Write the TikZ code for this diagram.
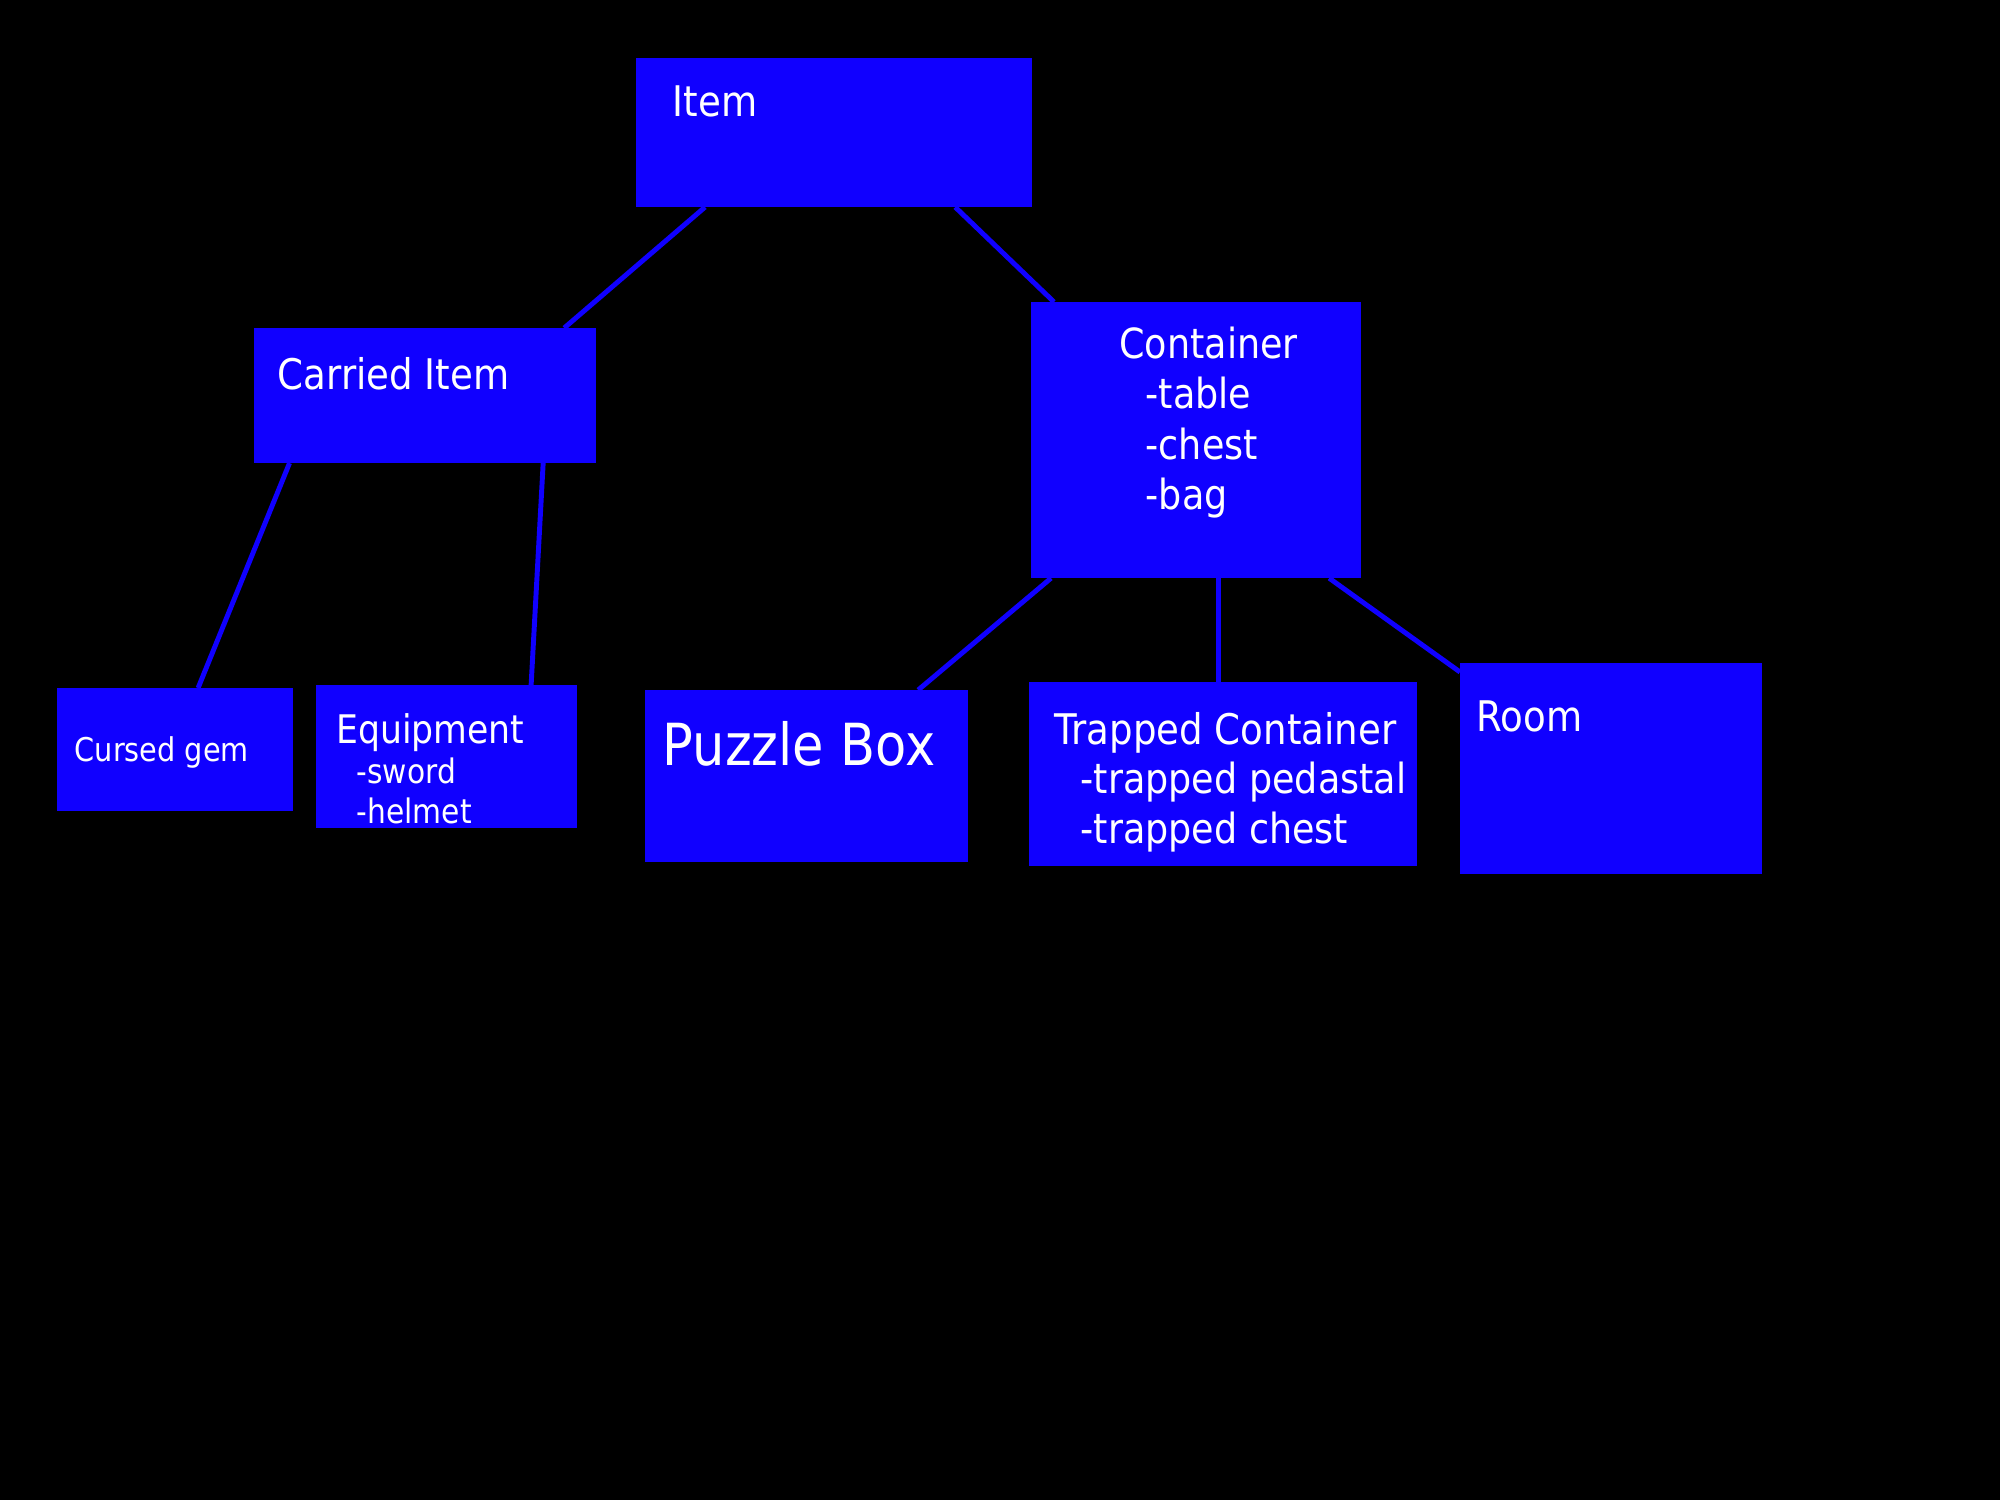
\documentclass[tikz,border=0pt]{standalone}
\usepackage{fontspec}
\setmainfont{DejaVu Sans}[FakeStretch=0.88]
\definecolor{boxblue}{RGB}{16,0,255}
\begin{document}
\begin{tikzpicture}[x=0.01cm,y=-0.01cm,
 box/.style={fill=boxblue, draw=none, inner sep=0pt, outer sep=0pt, anchor=north west},
 conn/.style={draw=boxblue, line width=1.4pt},
 lbl/.style={text=white, inner sep=0pt, anchor=base west}]
\fill[black] (0,0) rectangle (2000,1500);
\useasboundingbox (0,0) rectangle (2000,1500);
% boxes
\node[box, minimum width=3.96cm, minimum height=1.49cm] (item) at (636,58) {};
\node[box, minimum width=3.42cm, minimum height=1.35cm] (carried) at (254,328) {};
\node[box, minimum width=3.30cm, minimum height=2.76cm] (container) at (1031,302) {};
\node[box, minimum width=2.36cm, minimum height=1.23cm] (gem) at (57,688) {};
\node[box, minimum width=2.61cm, minimum height=1.43cm] (equip) at (316,685) {};
\node[box, minimum width=3.23cm, minimum height=1.72cm] (puzzle) at (645,690) {};
\node[box, minimum width=3.88cm, minimum height=1.84cm] (trapped) at (1029,682) {};
\node[box, minimum width=3.02cm, minimum height=2.11cm] (room) at (1460,663) {};
% connectors
\draw[conn] ([xshift=0.69cm]item.south west) -- ([xshift=3.10cm]carried.north west);
\draw[conn] ([xshift=3.19cm]item.south west) -- ([xshift=0.23cm]container.north west);
\draw[conn] ([xshift=0.355cm]carried.south west) -- ([xshift=1.41cm]gem.north west);
\draw[conn] ([xshift=2.89cm]carried.south west) -- ([xshift=2.15cm]equip.north west);
\draw[conn] ([xshift=0.20cm]container.south west) -- ([xshift=2.73cm]puzzle.north west);
\draw[conn] ([xshift=1.87cm]container.south west) -- ([xshift=1.87cm]container.south west |- trapped.north);
\draw[conn] ([xshift=2.98cm]container.south west) -- ([yshift=-0.09cm]room.north west);
% labels
\node[lbl, font=\fontsize{12pt}{14pt}\selectfont] (itemT) at (672,117) {Item};
\node[lbl, font=\fontsize{12pt}{14pt}\selectfont] (carriedT) at (277,389) {Carried Item};
\node[lbl, font=\fontsize{11.8pt}{14pt}\selectfont] (contT) at (1118.6,358) {Container};
\node[lbl, font=\fontsize{11.8pt}{14pt}\selectfont] (contA) at (1145,408) {-table};
\node[lbl, font=\fontsize{11.8pt}{14pt}\selectfont] (contB) at (1145,459) {-chest};
\node[lbl, font=\fontsize{11.8pt}{14pt}\selectfont] (contC) at (1145,509) {-bag};
\node[lbl, font=\fontsize{9.3pt}{12pt}\selectfont] (gemT) at (74,761) {Cursed gem};
\node[lbl, font=\fontsize{11.2pt}{13pt}\selectfont] (equipT) at (335.5,743) {Equipment};
\node[lbl, font=\fontsize{9.6pt}{12pt}\selectfont] (equipA) at (356,783) {-sword};
\node[lbl, font=\fontsize{9.6pt}{12pt}\selectfont] (equipB) at (356,823) {-helmet};
\node[lbl, font=\fontsize{16.5pt}{19pt}\selectfont] (puzzleT) at (662,765) {Puzzle Box};
\node[lbl, font=\fontsize{12pt}{14pt}\selectfont] (trapT) at (1053.6,744) {Trapped Container};
\node[lbl, font=\fontsize{11.8pt}{14pt}\selectfont] (trapA) at (1080,793) {-trapped pedastal};
\node[lbl, font=\fontsize{11.8pt}{14pt}\selectfont] (trapB) at (1080,843) {-trapped chest};
\node[lbl, font=\fontsize{12pt}{14pt}\selectfont] (roomT) at (1476,731) {Room};
\end{tikzpicture}
\end{document}
